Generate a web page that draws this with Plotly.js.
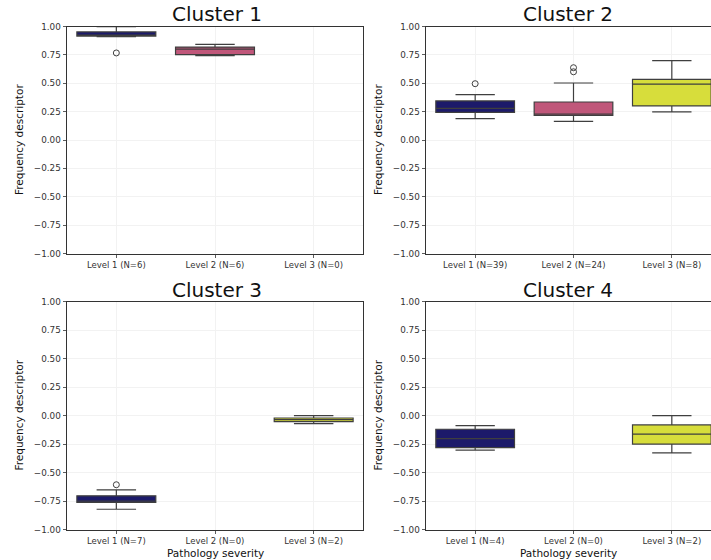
<!DOCTYPE html>
<html>
<head>
<meta charset="utf-8">
<script src="https://cdn.plot.ly/plotly-3.0.1.min.js"></script>
<style>
html, body { margin: 0; padding: 0; overflow: hidden; background: #fff; }
#chart { width: 722px; height: 560px; }
</style>
</head>
<body>
<div id="chart"></div>
<script>
// ---- data ----
const levels = ['Level 1', 'Level 2', 'Level 3'];
const clusterNames = ['Cluster 1', 'Cluster 2', 'Cluster 3', 'Cluster 4'];
const colors = ['#1c1a6a', '#c0577a', '#d7dd3b'];

// per cluster: N per level, and box stats (null = no box)
const c1N = [6, 6, 0];
const c1Lo = [0.91, 0.743, null];
const c1Q1 = [0.916, 0.752, null];
const c1Med = [0.92, 0.80, null];
const c1Q3 = [0.952, 0.819, null];
const c1Hi = [0.998, 0.843, null];
const c1Out = [[0.767], [], []];

const c2N = [39, 24, 8];
const c2Lo = [0.188, 0.164, 0.247];
const c2Q1 = [0.243, 0.217, 0.30];
const c2Med = [0.279, 0.229, 0.493];
const c2Q3 = [0.344, 0.335, 0.534];
const c2Hi = [0.40, 0.502, 0.70];
const c2Out = [[0.496], [0.601, 0.637], []];

const c3N = [7, 0, 2];
const c3Lo = [-0.822, null, -0.07];
const c3Q1 = [-0.763, null, -0.053];
const c3Med = [-0.75, null, -0.035];
const c3Q3 = [-0.704, null, -0.021];
const c3Hi = [-0.652, null, 0.0];
const c3Out = [[-0.607], [], []];

const c4N = [4, 0, 2];
const c4Lo = [-0.303, null, -0.327];
const c4Q1 = [-0.282, null, -0.25];
const c4Med = [-0.203, null, -0.162];
const c4Q3 = [-0.12, null, -0.082];
const c4Hi = [-0.088, null, 0.0];
const c4Out = [[], [], []];

const yTicks = [-1, -0.75, -0.5, -0.25, 0, 0.25, 0.5, 0.75, 1];

const clusters = [
  {N: c1N, lo: c1Lo, q1: c1Q1, med: c1Med, q3: c1Q3, hi: c1Hi, out: c1Out},
  {N: c2N, lo: c2Lo, q1: c2Q1, med: c2Med, q3: c2Q3, hi: c2Hi, out: c2Out},
  {N: c3N, lo: c3Lo, q1: c3Q1, med: c3Med, q3: c3Q3, hi: c3Hi, out: c3Out},
  {N: c4N, lo: c4Lo, q1: c4Q1, med: c4Med, q3: c4Q3, hi: c4Hi, out: c4Out}
];

// ---- layout geometry (pixels of a 722x560 canvas) ----
const W = 722, H = 560;
const colPx = [[67, 363], [426, 721]];
const rowPx = [[26.5, 253.5], [301.7, 529.5]];
const FONT = 'DejaVu Sans, sans-serif';

const traces = [];
const layout = {
  width: W, height: H,
  margin: {l: 0, r: 0, t: 0, b: 0},
  paper_bgcolor: '#fff', plot_bgcolor: '#fff',
  showlegend: false,
  boxmode: 'overlay',
  font: {family: FONT, color: '#333'},
  annotations: []
};

clusters.forEach((c, i) => {
  const row = Math.floor(i / 2), col = i % 2;
  const ax = i === 0 ? '' : String(i + 1);
  const xa = 'x' + ax, ya = 'y' + ax;
  const labels = levels.map((l, k) => `${l} (N=${c.N[k]})`);

  levels.forEach((l, k) => {
    if (c.q1[k] !== null) {
      traces.push({
        type: 'box', xaxis: xa, yaxis: ya,
        x: [labels[k]],
        q1: [c.q1[k]], median: [c.med[k]], q3: [c.q3[k]],
        lowerfence: [c.lo[k]], upperfence: [c.hi[k]],
        width: 0.8, whiskerwidth: 0.5,
        fillcolor: colors[k],
        line: {color: '#3f3f3f', width: 1.2},
        boxpoints: false, hoverinfo: 'skip'
      });
    }
    if (c.out[k].length) {
      traces.push({
        type: 'scatter', mode: 'markers', xaxis: xa, yaxis: ya,
        x: c.out[k].map(() => labels[k]), y: c.out[k],
        marker: {symbol: 'circle-open', size: 6, color: '#3f3f3f', line: {width: 1}},
        hoverinfo: 'skip'
      });
    }
  });

  const xd = [colPx[col][0] / W, colPx[col][1] / W];
  const yd = [1 - rowPx[row][1] / H, 1 - rowPx[row][0] / H];

  layout['xaxis' + ax] = {
    domain: xd, anchor: ya, type: 'category',
    categoryorder: 'array', categoryarray: labels,
    range: [-0.5, 2.5],
    showgrid: true, gridcolor: '#f2f2f2', gridwidth: 1,
    showline: true, linecolor: '#333', linewidth: 1, mirror: true,
    ticks: 'outside', ticklen: 3, tickcolor: '#333', tickwidth: 0.8,
    tickfont: {family: FONT, size: 8.5, color: '#333'},
    zeroline: false, fixedrange: true
  };
  layout['yaxis' + ax] = {
    domain: yd, anchor: xa,
    range: [-1, 1],
    tickvals: yTicks, tickformat: '.2f',
    showgrid: true, gridcolor: '#f2f2f2', gridwidth: 1,
    showline: true, linecolor: '#333', linewidth: 1, mirror: true,
    ticks: 'outside', ticklen: 3.5, tickcolor: '#333', tickwidth: 0.8,
    tickfont: {family: FONT, size: 8.8, color: '#333'},
    zeroline: false, fixedrange: true
  };

  // subplot title
  const titleX = col === 0 ? 217 : 568;
  const titleY = row === 0 ? 13.5 : 290;
  layout.annotations.push({
    text: clusterNames[i], xref: 'paper', yref: 'paper',
    x: titleX / W, y: 1 - titleY / H, xanchor: 'center', yanchor: 'middle',
    showarrow: false, font: {family: FONT, size: 20, color: '#111'}
  });
  // y-axis title
  const ytX = col === 0 ? 19 : 378;
  layout.annotations.push({
    text: 'Frequency descriptor', xref: 'paper', yref: 'paper',
    x: ytX / W, y: 1 - (rowPx[row][0] + rowPx[row][1]) / 2 / H,
    xanchor: 'center', yanchor: 'middle', textangle: -90,
    showarrow: false, font: {family: FONT, size: 10.5, color: '#111'}
  });
  // x-axis title (bottom row only)
  if (row === 1) {
    layout.annotations.push({
      text: 'Pathology severity', xref: 'paper', yref: 'paper',
      x: (col === 0 ? 215 : 568) / W,
      y: 1 - 553 / H, xanchor: 'center', yanchor: 'middle',
      showarrow: false, font: {family: FONT, size: 10.5, color: '#111'}
    });
  }
});

Plotly.newPlot('chart', traces, layout, {staticPlot: true, displayModeBar: false});
</script>
</body>
</html>
